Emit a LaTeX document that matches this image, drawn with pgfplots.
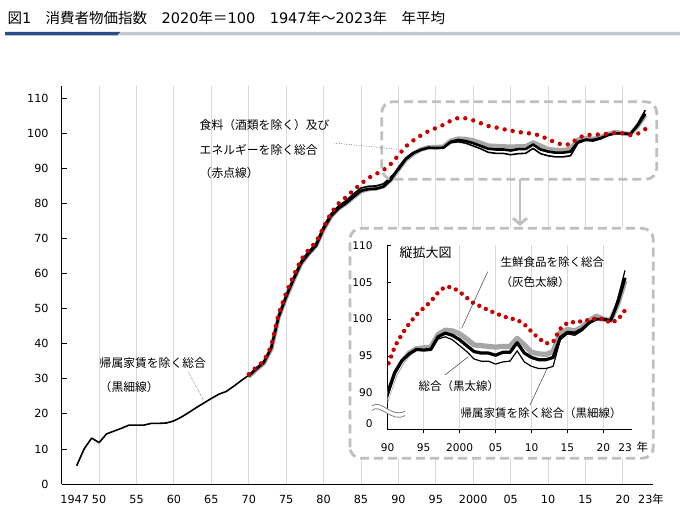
\documentclass[border=0pt]{standalone}
\usepackage{fontspec}
\setmainfont{DejaVu Sans}
\newfontfamily\jp{Noto Sans CJK JP}
\usepackage{pgfplots}
\usepackage{pgfplotstable}
\pgfplotsset{compat=1.18}
\usetikzlibrary{arrows.meta}
\definecolor{gridc}{HTML}{D9D9D9}
\definecolor{corec}{HTML}{A6A6A6}
\definecolor{redc}{HTML}{C80000}
\definecolor{boxc}{HTML}{BFBFBF}
\definecolor{navy}{HTML}{2E4A87}
\definecolor{barg}{HTML}{C3C7CE}

% 帰属家賃を除く総合 (thin black), 1947-2023
\pgfplotstableread{
year val
1947 5.2
1948 10.0
1949 13.1
1950 11.8
1951 14.3
1952 15.1
1953 15.9
1954 16.8
1955 16.8
1956 16.8
1957 17.3
1958 17.3
1959 17.4
1960 18.0
1961 19.1
1962 20.4
1963 21.8
1964 23.1
1965 24.4
1966 25.6
1967 26.4
1968 27.9
1969 29.5
1970 31.0
1971 33.1
1972 34.9
1973 39.0
1974 48.1
1975 53.9
1976 58.9
1977 63.6
1978 66.3
1979 68.6
1980 73.5
1981 77.1
1982 79.3
1983 80.8
1984 82.7
1985 84.4
1986 84.9
1987 85.0
1988 85.6
1989 87.6
1990 89.5
1991 92.5
1992 94.2
1993 95.3
1994 95.9
1995 95.8
1996 95.8
1997 97.3
1998 97.6
1999 97.2
2000 96.4
2001 95.6
2002 94.6
2003 94.3
2004 94.3
2005 93.9
2006 94.2
2007 94.3
2008 95.7
2009 94.2
2010 93.6
2011 93.3
2012 93.3
2013 93.6
2014 97.2
2015 98.0
2016 97.8
2017 98.4
2018 99.4
2019 100.0
2020 100.0
2021 99.7
2022 102.8
2023 106.6
}\tB

% 総合 (all), 生鮮食品を除く総合 (core), 食料及びエネルギーを除く総合 (red), 1970-2023
\pgfplotstableread{
year all core red
1970 30.8 30.6 31.3
1971 32.8 32.6 33.3
1972 34.6 34.4 35.0
1973 38.7 38.5 39.3
1974 47.7 47.6 48.6
1975 53.4 53.2 54.5
1976 58.4 58.2 59.5
1977 63.0 62.8 64.0
1978 65.7 65.6 66.8
1979 68.0 68.0 69.0
1980 72.8 72.6 73.2
1981 76.4 76.3 77.3
1982 78.6 78.6 80.0
1983 80.1 80.0 81.8
1984 81.9 81.8 83.8
1985 83.6 83.5 85.6
1986 84.1 84.1 87.3
1987 84.2 84.3 88.4
1988 84.8 84.9 89.5
1989 86.8 86.7 91.3
1990 90.0 89.7 93.7
1991 92.8 92.5 96.3
1992 94.4 94.2 98.0
1993 95.3 95.4 99.4
1994 95.9 96.0 100.6
1995 95.8 96.1 101.5
1996 95.9 96.2 102.4
1997 97.6 97.9 103.6
1998 98.1 98.5 104.4
1999 97.8 98.4 104.3
2000 97.2 98.0 103.7
2001 96.4 97.3 102.9
2002 95.6 96.5 102.1
2003 95.4 96.4 101.7
2004 95.4 96.3 101.2
2005 95.1 96.2 100.8
2006 95.5 96.3 100.4
2007 95.5 96.3 100.1
2008 96.8 97.4 99.9
2009 95.4 96.5 99.3
2010 94.8 95.5 98.3
2011 94.5 95.3 97.4
2012 94.5 95.2 96.7
2013 94.8 95.6 96.9
2014 97.5 98.2 98.7
2015 98.2 98.6 99.5
2016 98.1 98.4 99.6
2017 98.6 98.9 99.7
2018 99.5 99.8 99.9
2019 100.0 100.4 100.1
2020 100.0 100.0 100.0
2021 99.8 99.8 99.5
2022 102.3 102.1 99.9
2023 105.6 105.2 101.2
}\tM

\begin{document}
\begin{tikzpicture}[x=1pt,y=1pt]
\path[use as bounding box] (0,0) rectangle (680,515);
% title
\node[anchor=base west, inner sep=0, font=\fontsize{14.5}{17}\selectfont] at (7.3,491.8)
  {{\jp 図}1{\jp 　消費者物価指数　}2020{\jp 年＝}100{\jp 　}1947{\jp 年～}2023{\jp 年　年平均}};
\fill[navy] (5,479.7)--(5,483)--(120.5,483)--(117.5,479.7)--cycle;
\fill[barg] (117.5,479.7)--(120.5,483)--(680,483)--(680,479.7)--cycle;

% main axis
\begin{axis}[
  at={(61.7pt,31pt)}, anchor=south west, scale only axis,
  width=591.1pt, height=398pt,
  xmin=1945, xmax=2024, ymin=0, ymax=113.5,
  axis x line*=bottom, axis y line*=left,
  axis line style={black, line width=0.9pt, -},
  xtick={1950,1955,...,2020},
  xticklabels={50,55,60,65,70,75,80,85,90,95,2000,05,10,15,20},
  extra x ticks={1947,2023},
  extra x tick labels={\hspace*{-4pt}1947,{23\rlap{\smash{\jp 年}}}},
  extra x tick style={grid=none},
  xmajorgrids, grid style={gridc, line width=0.9pt},
  xtick style={draw=none},
  ytick={0,10,...,110},
  ytick align=inside, ytick style={black, line width=0.8pt}, major tick length=5pt,
  tick label style={font=\fontsize{11.2}{13}\selectfont},
  /pgf/number format/assume math mode=true,
  yticklabel style={xshift=-9.6pt},
  xticklabel style={yshift=-8pt},
]
\addplot[corec, line width=4.4pt, line join=round] table[x=year,y=core]{\tM};
\addplot[black, line width=1.6pt, line join=round] table[x=year,y=val]{\tB};
\addplot[black, line width=2.6pt, line join=round] table[x=year,y=all]{\tM};
\addplot[redc, line width=4.4pt, line cap=round, dash pattern=on 0pt off 8.2pt] table[x=year,y=red]{\tM};
\end{axis}

% upper highlight box and arrow
\draw[boxc, line width=2.8pt, dash pattern=on 9pt off 5pt, rounded corners=11pt]
  (381.7,335.7) rectangle (656.7,413.3);
\draw[boxc, line width=2.8pt, -{Straight Barb[length=6pt,width=14pt,line width=2.8pt]}] (520,335.7) -- (520,289);

% annotations main
\begin{scope}[every node/.style={anchor=west, inner sep=0, font=\fontsize{11.8}{13}\selectfont\jp}]
\node at (199.5,390) {食料（酒類を除く）及び};
\node at (199.5,365) {エネルギーを除く総合};
\node at (199.5,342.3) {（赤点線）};
\node at (99.5,151.7) {帰属家賃を除く総合};
\node at (99.5,128.3) {（黒細線）};
\end{scope}
\draw[black, line width=0.5pt, dotted] (334,372) -- (400,365.5);
\draw[black!70, line width=0.5pt, densely dotted] (188.3,143.3) -- (203.3,115);

% inset box
\draw[boxc, fill=white, line width=2.8pt, dash pattern=on 9pt off 5pt, rounded corners=11pt]
  (350,56.7) rectangle (653.3,286.7);

\begin{axis}[
  at={(387.7pt,85.2pt)}, anchor=south west, scale only axis,
  width=244.5pt, height=184.5pt,
  xmin=1990, xmax=2024, ymin=85, ymax=110,
  axis x line*=bottom, axis y line*=left,
  axis line style={black, line width=0.9pt, -},
  xtick={1995,2000,...,2020},
  xticklabels={95,2000,05,10,15,20},
  extra x ticks={1990,2023},
  extra x tick labels={90,23},
  extra x tick style={grid=none, tick style={draw=none}},
  xmajorgrids, grid style={gridc, line width=0.9pt},
  xtick align=outside, ytick align=inside,
  tick style={black, line width=0.8pt}, major tick length=3.5pt,
  ytick={90,95,...,110},
  extra y ticks={85.9}, extra y tick labels={0},
  extra y tick style={tick style={draw=none}},
  tick label style={font=\fontsize{10.6}{12}\selectfont},
  /pgf/number format/assume math mode=true,
  yticklabel style={xshift=-11.6pt},
  xticklabel style={yshift=-7pt},
  restrict x to domain=1989:2024,
]
\addplot[corec, line width=5.2pt, line join=round] table[x=year,y=core]{\tM};
\addplot[white, line width=3.2pt, line join=round] table[x=year,y=val]{\tB};
\addplot[black, line width=1.2pt, line join=round] table[x=year,y=val]{\tB};
\addplot[black, line width=3.2pt, line join=round] table[x=year,y=all]{\tM};
\addplot[redc, line width=4.4pt, line cap=round, dash pattern=on 0pt off 7.2pt] table[x=year,y=red]{\tM};
\end{axis}

% axis break
\fill[white] (372,109) .. controls (380,117) and (392,96) .. (405,104)
  -- (405,99.5) .. controls (392,91.5) and (380,112.5) .. (372,104.5) -- cycle;
\draw[gray, line width=0.8pt] (372,109) .. controls (380,117) and (392,96) .. (405,104);
\draw[gray, line width=0.8pt] (372,104.5) .. controls (380,112.5) and (392,91.5) .. (405,99.5);

% inset annotations
\node[anchor=west, inner sep=0, font=\fontsize{13}{15}\selectfont\jp] at (399.5,262.3) {縦拡大図};
\begin{scope}[every node/.style={anchor=west, inner sep=0, font=\fontsize{11.5}{13}\selectfont\jp}]
\node at (500.5,253.3) {生鮮食品を除く総合};
\node at (500.5,233.3) {（灰色太線）};
\node at (418.5,129.3) {総合（黒太線）};
\node at (460.5,102.3) {帰属家賃を除く総合（黒細線）};
\node at (636.5,68.3) {年};
\end{scope}
\draw[black!75, line width=0.5pt] (487.7,243.3) -- (461.7,186.7);
\draw[black!75, line width=0.5pt] (445,140) -- (468.3,158.3);
\draw[black!75, line width=0.5pt] (530,110) -- (547.7,147.7);
\end{tikzpicture}
\end{document}
